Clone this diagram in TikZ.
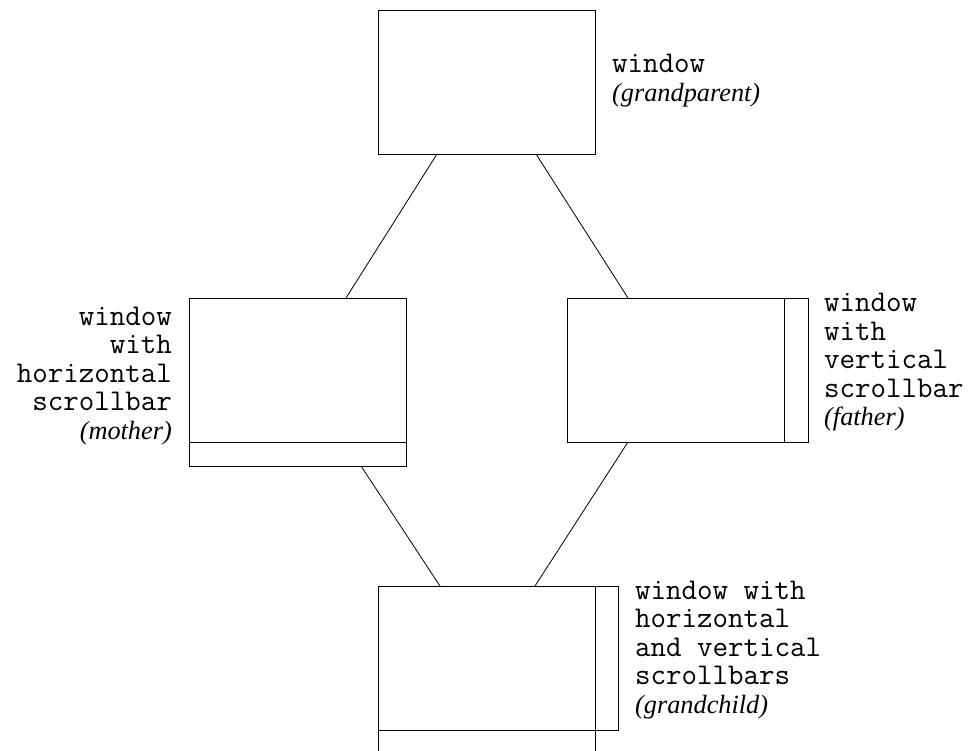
\documentclass[tikz,border=0pt]{standalone}
\usepackage{fontspec}
\setmainfont{Liberation Serif}
% class names in a typewriter face, captions in italic serif
\newcommand\codett[1]{{\fontsize{30.1}{28.5}\selectfont\ttfamily #1}}
\newcommand\roleit[1]{\textit{#1}}
\begin{document}
\begin{tikzpicture}[x=1pt,y=-1pt,
  win/.style={draw, line width=0.9pt, inner sep=0pt, outer sep=0pt, anchor=north west,
              minimum width=217pt, minimum height=144pt},
  hbar/.style={draw, line width=0.9pt, inner sep=0pt, outer sep=0pt, anchor=north west,
               minimum width=217pt, minimum height=24pt},
  vbar/.style={draw, line width=0.9pt, inner sep=0pt, outer sep=0pt, anchor=north west,
               minimum width=23pt, minimum height=144pt},
  lbl/.style={inner sep=0pt, font=\fontsize{26.3}{28.5}\selectfont},
  link/.style={line width=0.8pt}]
\useasboundingbox (0,0) rectangle (969,751);
\clip (0,0) rectangle (969,751);

% windows
\node[win] (gp) at (378,10) {};
\node[win] (mo) at (189,298) {};
\node[hbar] (mohs) at (189,442) {};
\node[win] (fa) at (567,298) {};
\node[vbar, minimum width=24pt] (favs) at (784,298) {};
\node[win] (gc) at (378,586) {};
\node[vbar] (gcvs) at (595,586) {};
\node[hbar] (gchs) at (378,730) {};

% inheritance links
\draw[link] ([xshift=59pt]gp.south west) -- ([xshift=157pt]mo.north west);
\draw[link] ([xshift=158pt]gp.south west) -- ([xshift=61pt]fa.north west);
\draw[link] ([xshift=172pt]mohs.south west) -- ([xshift=62pt]gc.north west);
\draw[link] ([xshift=61pt]fa.south west) -- ([xshift=157pt]gc.north west);

% labels
\node[lbl, anchor=base west] (lgp) at (612,73)
  {\begin{tabular}[t]{@{}l@{}}\codett{window}\\ \roleit{(grandparent)}\end{tabular}};
\node[lbl, anchor=base east] (lmo) at (172,325)
  {\begin{tabular}[t]{@{}r@{}}\codett{window}\\ \codett{with}\\ \codett{horizontal}\\ \codett{scrollbar}\\ \roleit{(mother)}\end{tabular}};
\node[lbl, anchor=base west] (lfa) at (824,312)
  {\begin{tabular}[t]{@{}l@{}}\codett{window}\\ \codett{with}\\ \codett{vertical}\\ \codett{scrollbar}\\ \roleit{(father)}\end{tabular}};
\node[lbl, anchor=base west] (lgc) at (635,599)
  {\begin{tabular}[t]{@{}l@{}}\codett{window with}\\ \codett{horizontal}\\ \codett{and vertical}\\ \codett{scrollbars}\\ \roleit{(grandchild)}\end{tabular}};
\end{tikzpicture}
\end{document}
